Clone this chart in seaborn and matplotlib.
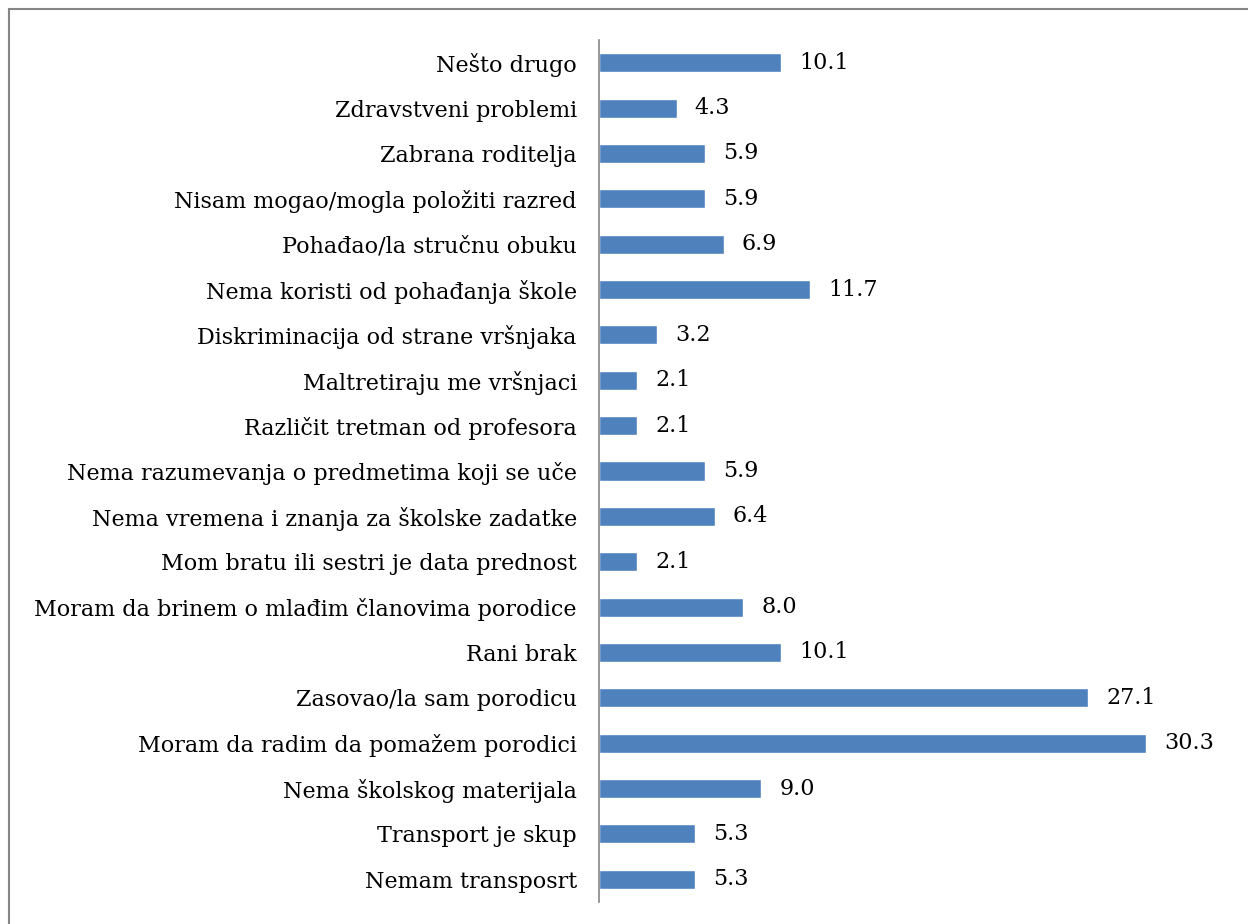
import matplotlib
matplotlib.use("Agg")
import matplotlib.pyplot as plt
import matplotlib.patches as mpatches
import seaborn as sns
import pandas as pd

categories = [
    "Nešto drugo",
    "Zdravstveni problemi",
    "Zabrana roditelja",
    "Nisam mogao/mogla položiti razred",
    "Pohađao/la stručnu obuku",
    "Nema koristi od pohađanja škole",
    "Diskriminacija od strane vršnjaka",
    "Maltretiraju me vršnjaci",
    "Različit tretman od profesora",
    "Nema razumevanja o predmetima koji se uče",
    "Nema vremena i znanja za školske zadatke",
    "Mom bratu ili sestri je data prednost",
    "Moram da brinem o mlađim članovima porodice",
    "Rani brak",
    "Zasovao/la sam porodicu",
    "Moram da radim da pomažem porodici",
    "Nema školskog materijala",
    "Transport je skup",
    "Nemam transposrt",
]
values = [10.1, 4.3, 5.9, 5.9, 6.9, 11.7, 3.2, 2.1, 2.1, 5.9,
          6.4, 2.1, 8.0, 10.1, 27.1, 30.3, 9.0, 5.3, 5.3]

df = pd.DataFrame({"reason": categories, "pct": values})

sns.set_style("white")
plt.rcParams["font.family"] = ["DejaVu Serif"]

W, H = 1248, 924
fig = plt.figure(figsize=(W / 100, H / 100), dpi=100)
ax = fig.add_axes([599 / W, 22 / H, 631 / W, 862 / H])

sns.barplot(data=df, x="pct", y="reason", orient="h", color="#4F81BD",
            saturation=1, width=0.42, ax=ax)

ax.set_xlim(0, 631 / 18.05)
ax.set_ylim(18.5, -0.5)
ax.set_xlabel("")
ax.set_ylabel("")
ax.set_xticks([])
ax.tick_params(axis="y", length=0, pad=16, labelsize=16)
for lab in ax.get_yticklabels():
    lab.set_color("black")

for s in ["top", "right", "bottom"]:
    ax.spines[s].set_visible(False)
ax.spines["left"].set_color("#868686")
ax.spines["left"].set_linewidth(1.2)

for bar, v in zip(ax.patches, values):
    ax.text(bar.get_width() + 1.0, bar.get_y() + bar.get_height() / 2,
            f"{v:.1f}", va="center", ha="left", fontsize=16, color="black")

frame = mpatches.Rectangle((9 / W, -0.1), 1.2, (924 - 9) / H + 0.1,
                           transform=fig.transFigure, fill=False,
                           edgecolor="#868686", linewidth=1.5)
fig.patches.append(frame)

fig.savefig("out.png", dpi=100)
